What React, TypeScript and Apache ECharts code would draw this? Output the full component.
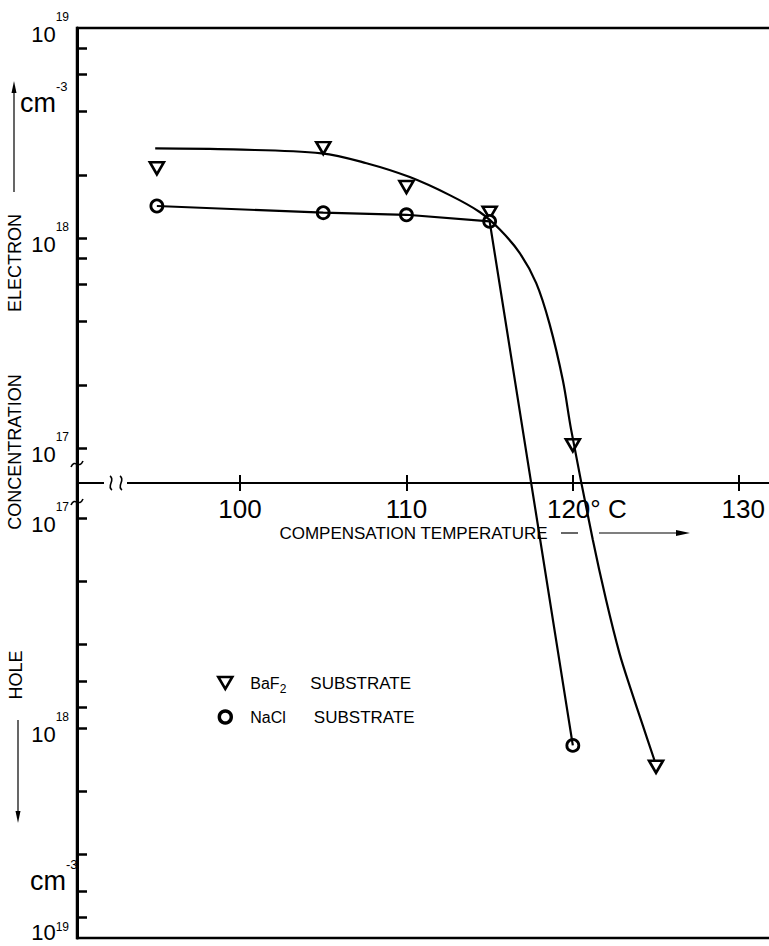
import React, { useEffect, useRef } from 'react';
import * as echarts from 'echarts';

// ---------------- data ----------------
// carrier: 'e' = electron concentration (upper half), 'h' = hole concentration (lower half)
const baf2Temp = [95, 105, 110, 115, 120, 125];
const baf2Conc = [2.15e18, 2.68e18, 1.75e18, 1.32e18, 1.03e17, 1.53e18];
const baf2Carrier = ['e', 'e', 'e', 'e', 'e', 'h'];

const naclTemp = [95, 105, 110, 115, 120];
const naclConc = [1.42e18, 1.32e18, 1.29e18, 1.2e18, 1.21e18];
const naclCarrier = ['e', 'e', 'e', 'e', 'h'];

// hand-drawn curve through the BaF2 points
const baf2CurveTemp = [94.9, 99.6, 104.9, 107.6, 110.2, 112.6, 114.4, 115.6, 116.8, 117.8, 118.6, 119.4, 119.9, 121.2, 122.0, 122.8, 123.5, 124.2, 124.9];
const baf2CurveConc = [2.67e18, 2.64e18, 2.53e18, 2.27e18, 1.95e18, 1.6e18, 1.33e18, 1.1e18, 8.5e17, 6.1e17, 3.9e17, 2.1e17, 1.22e17, 1.27e17, 2.46e17, 4.4e17, 6.6e17, 9.7e17, 1.42e18];
const baf2CurveCarrier = ['e', 'e', 'e', 'e', 'e', 'e', 'e', 'e', 'e', 'e', 'e', 'e', 'e', 'h', 'h', 'h', 'h', 'h', 'h'];

const xTicks = [100, 110, 120, 130];
const xMin = 90.2;
const xMax = 131.97;
const concTicks = [1e17, 2e17, 4e17, 6e17, 8e17, 1e18, 2e18, 4e18, 6e18, 8e18];
const concLabels = [1e17, 1e18, 1e19];
const haloBaf2Index = [3, 4];

// ---------------- mapping of the broken double-log axis ----------------
const GAP = 1 / 6; // half of the break between the two panels, in decades
const toU = (c: number, carrier: string) =>
  carrier === 'e' ? Math.log10(c) - 17 + GAP : -(Math.log10(c) - 17) - GAP;
const U_MAX = toU(1e19, 'e');
const U_MIN = toU(1e19, 'h');

const pts = (t: number[], c: number[], k: string[]) => t.map((x, i) => [x, toU(c[i], k[i])]);

const NARROW = "'Liberation Sans Narrow', 'Arial Narrow', 'Liberation Sans', sans-serif";
const SANS = "'Liberation Sans', 'DejaVu Sans', sans-serif";
const TRI = 'path://M0,0L14,0L7,12Z';

export default function App() {
  const ref = useRef<HTMLDivElement>(null);
  useEffect(() => {
    const chart = echarts.init(ref.current!, undefined, { renderer: 'svg' });
    const yTickU = [...concTicks.map((c) => toU(c, 'e')), ...concTicks.map((c) => toU(c, 'h'))];
    const yLabelU = [...concLabels.map((c) => toU(c, 'e')), ...concLabels.map((c) => toU(c, 'h'))];
    const haloData = [
      ...pts(naclTemp, naclConc, naclCarrier),
      ...haloBaf2Index.map((i) => [baf2Temp[i], toU(baf2Conc[i], baf2Carrier[i])]),
    ];
    const black = '#000';
    const txt = (x: number, y: number, text: string, extra: any = {}) => ({
      type: 'text', x, y, z: 20, ...extra,
      style: { text, fill: black, fontFamily: SANS, fontSize: 18, align: 'center', verticalAlign: 'middle', textAlign: 'center', textVerticalAlign: 'middle', ...(extra.style || {}) },
    });
    const common = { left: 77, right: -3, top: 28, containLabel: false, outerBoundsMode: 'none' };
    const unitRich = {
      a: { fontFamily: SANS, fontSize: 27, fill: black, color: black, lineHeight: 36, verticalAlign: 'bottom' },
      b: { fontFamily: SANS, fontSize: 13, fill: black, color: black, verticalAlign: 'top' },
    };
    const yLabel = (v: number) => {
      const exp = Math.round(Math.abs(v) + 17 - GAP);
      // the lowest label sits against the lower edge of the picture
      return v < 0 && exp === 19 ? '{e|10}{s|' + exp + '}' : '{b|10}{s|' + exp + '}';
    };
    const option: any = {
      animation: false,
      backgroundColor: '#fff',
      grid: [
        // whole plotting frame (both panels)
        { ...common, bottom: 8, show: true, borderColor: black, borderWidth: 2.5, backgroundColor: 'transparent' },
        // upper panel, whose lower edge carries the temperature axis
        { ...common, height: 455, show: false },
      ],
      xAxis: [
        {
          type: 'value', gridIndex: 0, min: xMin, max: xMax, show: false,
          axisLine: { onZero: false }, splitLine: { show: false },
        },
        {
          type: 'value', gridIndex: 1, min: xMin, max: xMax, position: 'bottom',
          axisLine: { show: true, onZero: false, lineStyle: { color: black, width: 2.2 } },
          axisTick: { show: true, length: 8, lineStyle: { color: black, width: 2 }, customValues: xTicks },
          axisLabel: {
            customValues: xTicks, margin: 13, color: black,
            formatter: (v: number) => (v === 120 ? '{c|120° C}' : v === 130 ? '{d|130}' : '{a|' + v + '}'),
            rich: {
              a: { fontFamily: NARROW, fontSize: 26, color: black },
              c: { fontFamily: NARROW, fontSize: 26, color: black, padding: [0, 0, 0, 28] },
              d: { fontFamily: NARROW, fontSize: 26, color: black, padding: [0, 0, 0, 8] },
            },
          },
          splitLine: { show: false },
          name: 'COMPENSATION TEMPERATURE', nameLocation: 'middle', nameGap: 42,
          nameTextStyle: { fontFamily: SANS, fontSize: 17, color: black, padding: [0, 22, 0, 0] },
        },
        {
          type: 'value', gridIndex: 1, min: xMin, max: xMax, position: 'bottom',
          axisLine: { show: false, onZero: false },
          axisTick: { show: true, inside: true, length: 8, lineStyle: { color: black, width: 2 }, customValues: xTicks },
          axisLabel: { show: false }, splitLine: { show: false },
        },
      ],
      yAxis: [
        {
          type: 'value', gridIndex: 0, min: U_MIN, max: U_MAX, position: 'left',
          axisLine: { show: true, onZero: false, lineStyle: { color: black, width: 3 } },
          axisTick: { show: true, inside: true, length: 10, lineStyle: { color: black, width: 2.5 }, customValues: yTickU },
          axisLabel: {
            customValues: yLabelU, margin: 8, color: black,
            formatter: yLabel,
            rich: {
              b: { fontFamily: NARROW, fontSize: 22, color: black, lineHeight: 34, verticalAlign: 'bottom' },
              e: { fontFamily: NARROW, fontSize: 22, color: black, lineHeight: 34, verticalAlign: 'top' },
              s: { fontFamily: NARROW, fontSize: 12, color: black, verticalAlign: 'top' },
            },
          },
          splitLine: { show: false },
        },
        {
          type: 'value', gridIndex: 1, min: 0, max: 1, show: false,
          axisLine: { show: false, onZero: false }, axisTick: { show: false }, axisLabel: { show: false }, splitLine: { show: false },
        },
      ],
      legend: {
        orient: 'vertical', left: 212, top: 666, itemWidth: 14, itemHeight: 12, itemGap: 10,
        selectedMode: false,
        data: [
          { name: 'BaF2', icon: TRI, itemStyle: { color: '#fff', borderColor: black, borderWidth: 2.6 } },
          { name: 'NaCl', icon: 'circle', itemStyle: { color: '#fff', borderColor: black, borderWidth: 3.4 } },
        ],
        formatter: (n: string) => (n === 'BaF2' ? '{a|BaF}{s|2}{b|SUBSTRATE}' : '{a|NaCl}{c|SUBSTRATE}'),
        textStyle: {
          lineHeight: 24,
          rich: {
            a: { fontFamily: SANS, fontSize: 16, color: black, padding: [0, 0, 0, 13] },
            s: { fontFamily: SANS, fontSize: 12, color: black, verticalAlign: 'bottom' },
            b: { fontFamily: SANS, fontSize: 17, color: black, padding: [0, 0, 0, 24] },
            c: { fontFamily: SANS, fontSize: 17, color: black, padding: [0, 0, 0, 28] },
          },
        },
      },
      series: [
        {
          name: 'BaF2 curve', type: 'line', xAxisIndex: 0, yAxisIndex: 0,
          data: pts(baf2CurveTemp, baf2CurveConc, baf2CurveCarrier),
          smooth: 0.35, showSymbol: false, symbol: 'none', silent: true,
          lineStyle: { color: black, width: 2.2 },
        },
        {
          name: 'NaCl line', type: 'line', xAxisIndex: 0, yAxisIndex: 0,
          data: pts(naclTemp, naclConc, naclCarrier),
          showSymbol: false, symbol: 'none', silent: true,
          lineStyle: { color: black, width: 2.2 },
        },
        {
          name: 'halo', type: 'scatter', xAxisIndex: 0, yAxisIndex: 0, data: haloData,
          symbol: 'circle', symbolSize: 24, silent: true,
          itemStyle: { color: '#fff', borderWidth: 0, opacity: 1 },
        },
        {
          name: 'BaF2', type: 'scatter', xAxisIndex: 0, yAxisIndex: 0,
          data: pts(baf2Temp, baf2Conc, baf2Carrier),
          symbol: TRI, symbolSize: [14, 12],
          itemStyle: { color: '#fff', borderColor: black, borderWidth: 2.6, opacity: 1 },
        },
        {
          name: 'NaCl', type: 'scatter', xAxisIndex: 0, yAxisIndex: 0,
          data: pts(naclTemp, naclConc, naclCarrier),
          symbol: 'circle', symbolSize: 12,
          itemStyle: { color: '#fff', borderColor: black, borderWidth: 2.8, opacity: 1 },
        },
      ],
      graphic: [
        // rotated axis titles
        txt(15, 263, 'ELECTRON', { rotation: Math.PI / 2 }),
        txt(15, 452, 'CONCENTRATION', { rotation: Math.PI / 2 }),
        txt(16, 675, 'HOLE', { rotation: Math.PI / 2 }),
        // units
        { type: 'text', x: 20, y: 98, z: 20, style: { text: '{a|cm}{b|-3}', align: 'left', verticalAlign: 'middle', textAlign: 'left', textVerticalAlign: 'middle', rich: unitRich } },
        { type: 'text', x: 30, y: 876, z: 20, style: { text: '{a|cm}{b|-3}', align: 'left', verticalAlign: 'middle', textAlign: 'left', textVerticalAlign: 'middle', rich: unitRich } },
        // arrows beside the units
        { type: 'line', z: 20, shape: { x1: 14, y1: 192, x2: 14, y2: 88 }, style: { stroke: black, lineWidth: 1.2 } },
        { type: 'polygon', z: 20, shape: { points: [[14, 81], [11.5, 93], [16.5, 93]] }, style: { fill: black } },
        { type: 'line', z: 20, shape: { x1: 18, y1: 720, x2: 18, y2: 815 }, style: { stroke: black, lineWidth: 1.2 } },
        { type: 'polygon', z: 20, shape: { points: [[18, 823], [15.5, 811], [20.5, 811]] }, style: { fill: black } },
        // arrow after the axis title
        { type: 'line', z: 20, shape: { x1: 561, y1: 533, x2: 578, y2: 533 }, style: { stroke: black, lineWidth: 1.2 } },
        { type: 'line', z: 20, shape: { x1: 599, y1: 533, x2: 680, y2: 533 }, style: { stroke: black, lineWidth: 1.2 } },
        { type: 'polygon', z: 20, shape: { points: [[690, 533], [676, 530], [676, 536]] }, style: { fill: black } },
        // axis break on the temperature axis
        { type: 'rect', z: 20, shape: { x: 104, y: 478, width: 23, height: 10 }, style: { fill: '#fff' } },
        { type: 'bezierCurve', z: 21, shape: { x1: 110, y1: 476, cpx1: 116, cpy1: 480, cpx2: 106, cpy2: 486, x2: 112, y2: 490 }, style: { stroke: black, lineWidth: 1.6, fill: 'none' } },
        { type: 'bezierCurve', z: 21, shape: { x1: 120, y1: 476, cpx1: 126, cpy1: 480, cpx2: 116, cpy2: 486, x2: 122, y2: 490 }, style: { stroke: black, lineWidth: 1.6, fill: 'none' } },
        // axis break marks on the concentration axis
        { type: 'bezierCurve', z: 21, shape: { x1: 71, y1: 467, cpx1: 75, cpy1: 458, cpx2: 79, cpy2: 470, x2: 83, y2: 461 }, style: { stroke: black, lineWidth: 1.6, fill: 'none' } },
        { type: 'bezierCurve', z: 21, shape: { x1: 71, y1: 505, cpx1: 75, cpy1: 496, cpx2: 79, cpy2: 508, x2: 83, y2: 499 }, style: { stroke: black, lineWidth: 1.6, fill: 'none' } },
      ],
    };
    chart.setOption(option);
    return () => chart.dispose();
  }, []);
  return <div ref={ref} style={{ position: 'fixed', left: 0, top: 0, width: 769, height: 946, background: '#fff' }} />;
}
